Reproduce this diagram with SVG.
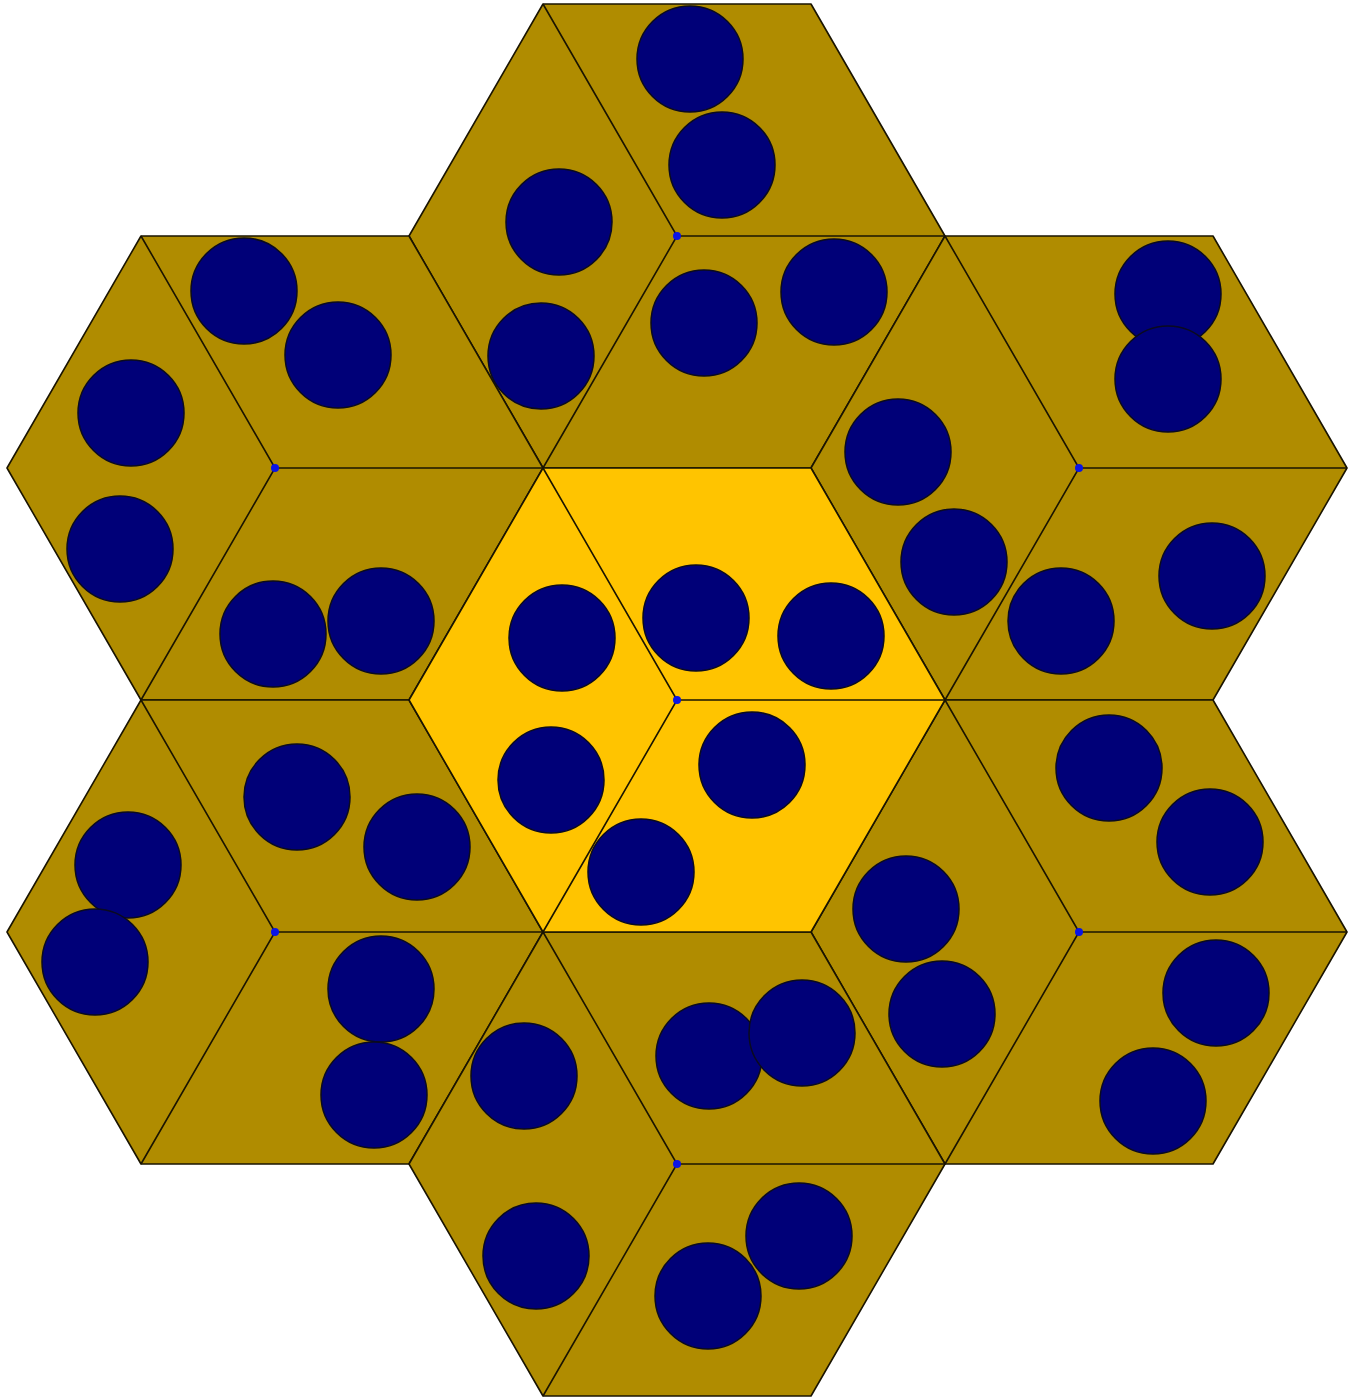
<svg xmlns="http://www.w3.org/2000/svg" width="1362" height="1400" viewBox="0 0 1362 1400">
<style>
.hex{fill:#b08c00;stroke:#1a1400;stroke-width:1.6;stroke-linejoin:round}
.hex.mid{fill:#ffc400}
.div{fill:none;stroke:#1a1400;stroke-width:1.6}
.ball{fill:#000078;stroke:#0a0a20;stroke-width:1.5}
.dot{fill:#0a14e6}
</style>
<defs>
<polygon id="hx" points="-134,-232 134,-232 268,0 134,232 -134,232 -268,0"/>
<path id="dv" d="M-134,-232 L0,0 L-134,232 M0,0 L268,0"/>
</defs>
<rect width="1362" height="1400" fill="#fff"/>
<g id="hex-top" transform="translate(677,236)"><use href="#hx" class="hex"/><use href="#dv" class="div"/></g>
<g id="hex-ul" transform="translate(275,468)"><use href="#hx" class="hex"/><use href="#dv" class="div"/></g>
<g id="hex-ur" transform="translate(1079,468)"><use href="#hx" class="hex"/><use href="#dv" class="div"/></g>
<g id="hex-ll" transform="translate(275,932)"><use href="#hx" class="hex"/><use href="#dv" class="div"/></g>
<g id="hex-lr" transform="translate(1079,932)"><use href="#hx" class="hex"/><use href="#dv" class="div"/></g>
<g id="hex-bottom" transform="translate(677,1164)"><use href="#hx" class="hex"/><use href="#dv" class="div"/></g>
<g id="hex-center" transform="translate(677,700)"><use href="#hx" class="hex mid"/><use href="#dv" class="div"/></g>
<g id="balls">
<circle class="ball" cx="690" cy="59" r="53"/>
<circle class="ball" cx="722" cy="165" r="53"/>
<circle class="ball" cx="559" cy="222" r="53"/>
<circle class="ball" cx="541" cy="356" r="53"/>
<circle class="ball" cx="704" cy="323" r="53"/>
<circle class="ball" cx="834" cy="292" r="53"/>
<circle class="ball" cx="244" cy="291" r="53"/>
<circle class="ball" cx="338" cy="355" r="53"/>
<circle class="ball" cx="131" cy="413" r="53"/>
<circle class="ball" cx="120" cy="549" r="53"/>
<circle class="ball" cx="273" cy="634" r="53"/>
<circle class="ball" cx="381" cy="621" r="53"/>
<circle class="ball" cx="1168" cy="294" r="53"/>
<circle class="ball" cx="1168" cy="379" r="53"/>
<circle class="ball" cx="898" cy="452" r="53"/>
<circle class="ball" cx="954" cy="562" r="53"/>
<circle class="ball" cx="1061" cy="621" r="53"/>
<circle class="ball" cx="1212" cy="576" r="53"/>
<circle class="ball" cx="562" cy="638" r="53"/>
<circle class="ball" cx="696" cy="618" r="53"/>
<circle class="ball" cx="831" cy="636" r="53"/>
<circle class="ball" cx="551" cy="780" r="53"/>
<circle class="ball" cx="752" cy="765" r="53"/>
<circle class="ball" cx="641" cy="872" r="53"/>
<circle class="ball" cx="297" cy="797" r="53"/>
<circle class="ball" cx="417" cy="847" r="53"/>
<circle class="ball" cx="128" cy="865" r="53"/>
<circle class="ball" cx="95" cy="962" r="53"/>
<circle class="ball" cx="381" cy="989" r="53"/>
<circle class="ball" cx="374" cy="1095" r="53"/>
<circle class="ball" cx="1109" cy="768" r="53"/>
<circle class="ball" cx="1210" cy="842" r="53"/>
<circle class="ball" cx="906" cy="909" r="53"/>
<circle class="ball" cx="942" cy="1014" r="53"/>
<circle class="ball" cx="1216" cy="993" r="53"/>
<circle class="ball" cx="1153" cy="1101" r="53"/>
<circle class="ball" cx="524" cy="1076" r="53"/>
<circle class="ball" cx="709" cy="1056" r="53"/>
<circle class="ball" cx="802" cy="1033" r="53"/>
<circle class="ball" cx="536" cy="1256" r="53"/>
<circle class="ball" cx="799" cy="1236" r="53"/>
<circle class="ball" cx="708" cy="1296" r="53"/>
</g>
<g id="centers">
<circle class="dot" cx="677" cy="236" r="4"/>
<circle class="dot" cx="275" cy="468" r="4"/>
<circle class="dot" cx="1079" cy="468" r="4"/>
<circle class="dot" cx="677" cy="700" r="4"/>
<circle class="dot" cx="275" cy="932" r="4"/>
<circle class="dot" cx="1079" cy="932" r="4"/>
<circle class="dot" cx="677" cy="1164" r="4"/>
</g>
</svg>
